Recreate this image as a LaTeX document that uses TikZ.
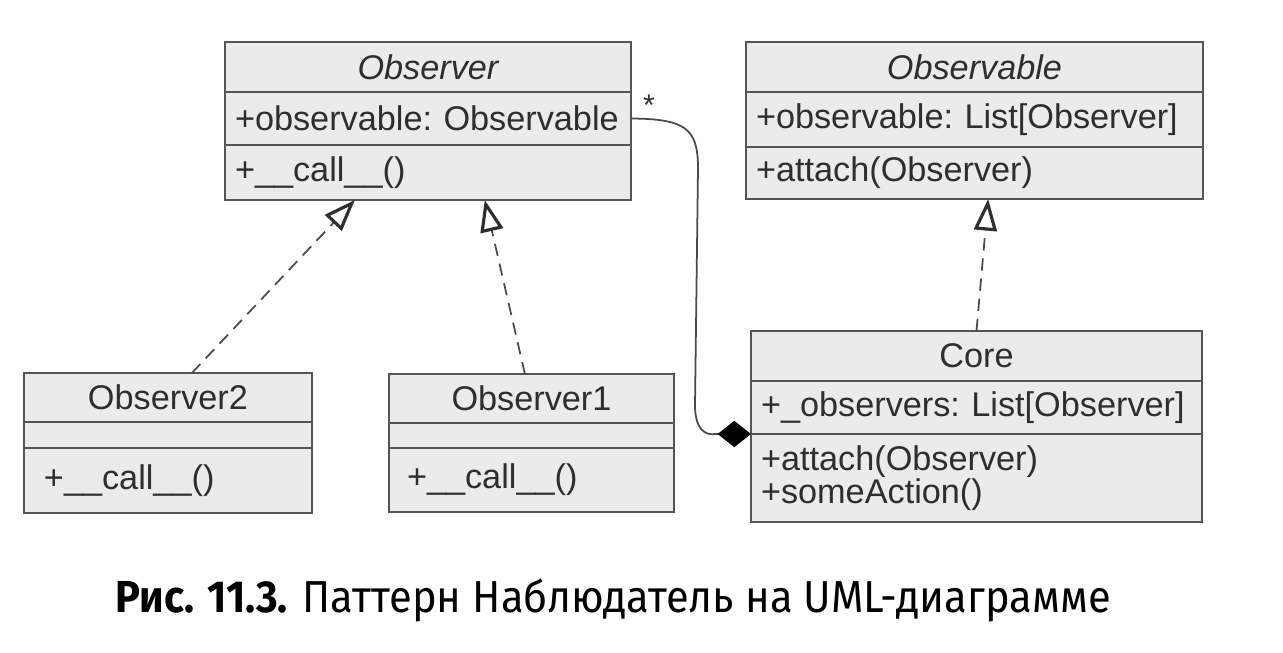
\documentclass[tikz,border=0pt]{standalone}
\usepackage{fontspec}
\usepackage{tikz}
\usetikzlibrary{positioning,arrows.meta,calc}
\newfontfamily\umlsans{Liberation Sans}
\newfontfamily\capsans[FakeStretch=0.93]{Fira Sans}
\newcommand\umlfont{\umlsans\fontsize{19.5}{17}\selectfont\frenchspacing\hyphenpenalty=10000\relax}
\definecolor{umlfill}{HTML}{EBEBEB}
\definecolor{umlline}{HTML}{555555}
\definecolor{umltext}{HTML}{2E2E2E}
\definecolor{linkgrey}{HTML}{4A4A4A}

\begin{document}
\begin{tikzpicture}[
    x=0.02cm, y=-0.02cm,
    part/.style={draw=umlline, fill=umlfill, line width=1.1pt, text=umltext,
      font=\umlfont, anchor=north west, outer sep=0pt, inner xsep=0.2cm, inner ysep=0pt,
      align=left, text width=#1},
    head/.style={part=#1, align=center},
    realize/.style={draw=linkgrey, line width=1pt, dash pattern=on 7pt off 4.5pt,
      -{Triangle[open, fill=white, color=umltext, length=18pt, width=13pt, line width=1.8pt]}},
    comp/.style={draw=linkgrey, line width=1pt,
      {Diamond[length=19pt, width=15pt, color=black, fill=black]}-},
    mult/.style={font=\umlsans\fontsize{17}{17}\selectfont, text=umltext, inner sep=0pt},
    capt/.style={font=\capsans\fontsize{25.5}{30}\selectfont, anchor=base, inner sep=0pt}
  ]
  \fill[white] (0,0) rectangle (1283,652);
  \useasboundingbox (0,0) rectangle (1283,652);

  % ---- classe abstraite Observer ------------------------------------------
  \node[head=7.72cm, minimum height=1.0cm] (observer) at (225,42) {\itshape Observer};
  \node[part=7.72cm, minimum height=1.06cm] (observer-a) at (observer.south west) {+observable: Observable};
  \node[part=7.72cm, minimum height=1.1cm] (observer-m) at (observer-a.south west) {+\_\_call\_\_()};

  % ---- classe abstraite Observable ----------------------------------------
  \node[head=8.74cm, minimum height=1.0cm] (observable) at (746,42) {\itshape Observable};
  \node[part=8.74cm, minimum height=1.1cm] (observable-a) at (observable.south west) {+observable: List[Observer]};
  \node[part=8.74cm, minimum height=1.04cm] (observable-m) at (observable-a.south west) {+attach(Observer)};

  % ---- Core ---------------------------------------------------------------
  \node[head=8.62cm, minimum height=1.0cm] (core) at (751,331) {Core};
  \node[part=8.62cm, minimum height=1.06cm] (core-a) at (core.south west) {+\_observers: List[Observer]};
  \node[part=8.62cm, minimum height=1.76cm] (core-m) at (core-a.south west) {+attach(Observer)\\+someAction()};

  % ---- Observer2 et Observer1 ---------------------------------------------
  \node[head=5.36cm, minimum height=0.98cm] (observer2) at (24,373) {Observer2};
  \node[part=5.36cm, minimum height=0.52cm] (observer2-a) at (observer2.south west) {};
  \node[part=4.96cm, inner xsep=0.4cm, minimum height=1.3cm] (observer2-m) at (observer2-a.south west) {+\_\_call\_\_()};

  \node[head=5.3cm, minimum height=0.98cm] (observer1) at (389,374) {Observer1};
  \node[part=5.3cm, minimum height=0.5cm] (observer1-a) at (observer1.south west) {};
  \node[part=4.98cm, inner xsep=0.36cm, minimum height=1.28cm] (observer1-m) at (observer1-a.south west) {+\_\_call\_\_()};

  % ---- realisations (pointille, triangle creux) ---------------------------
  \draw[realize] ($(observer2.north west)!0.583!(observer2.north east)$)
    -- ($(observer-m.south west)!0.32!(observer-m.south east)$);
  \draw[realize] ($(observer1.north west)!0.477!(observer1.north east)$)
    -- ($(observer-m.south west)!0.64!(observer-m.south east)$);
  \draw[realize] (core.north) -- ($(observable-m.south west)!0.53!(observable-m.south east)$);

  % ---- composition Core -> Observer ---------------------------------------
  \draw[comp] (core-m.north west) -- ++(-35,0)
    .. controls (704,436) and (695,428) .. (695,405) -- (698,168)
    .. controls (698,128) and (685,119) .. (observer-a.east);
  \node[mult] (star) at (649,105) {*};

  % ---- legende ------------------------------------------------------------
  \node[capt] (caption) at (613,612) {\textbf{Рис. 11.3.} Паттерн Наблюдатель на UML-диаграмме};

\end{tikzpicture}
\end{document}
